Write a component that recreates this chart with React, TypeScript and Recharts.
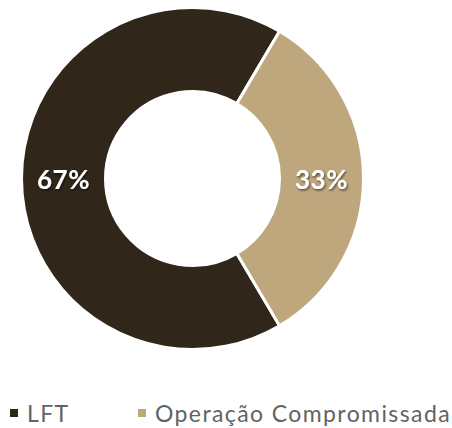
import React from 'react';
import { PieChart, Pie, Cell, Legend } from 'recharts';

const categories = ['LFT', 'Operação Compromissada'];
const shares = [67, 33];
const colors = ['#30271A', '#BFA77D'];

const data = categories.map((name, i) => ({ name, value: shares[i] }));

const RADIAN = Math.PI / 180;

const renderLabel = (props: any) => {
  const { cx, cy, midAngle, innerRadius, outerRadius, value } = props;
  const r = (innerRadius + outerRadius) / 2;
  const x = cx + r * Math.cos(-midAngle * RADIAN);
  const y = cy + r * Math.sin(-midAngle * RADIAN);
  return (
    <text
      x={x}
      y={y}
      fill="#ffffff"
      textAnchor="middle"
      dominantBaseline="central"
      filter="url(#labelShadow)"
      style={{ fontFamily: 'Lato, sans-serif', fontSize: 26, fontWeight: 700, letterSpacing: 0.5 }}
    >
      {`${value}%`}
    </text>
  );
};

const renderLegend = (props: any) => {
  const { payload } = props;
  return (
    <div style={{ display: 'flex', alignItems: 'center', fontFamily: 'Lato, sans-serif', fontSize: 23, fontWeight: 400, letterSpacing: 1.4, color: '#636363' }}>
      {payload.map((entry: any, i: number) => (
        <div key={entry.value} style={{ display: 'flex', alignItems: 'center', width: i === 0 ? 128 : 'auto' }}>
          <span style={{ display: 'inline-block', width: 8, height: 8, background: entry.color, marginRight: 9 }} />
          <span>{entry.value}</span>
        </div>
      ))}
    </div>
  );
};

export default function App() {
  return (
    <div style={{ width: 452, height: 428, background: '#fff' }}>
      <style>{'body{margin:0}'}</style>
      <PieChart width={452} height={428} margin={{ top: 0, right: 0, bottom: 0, left: 0 }}>
        <defs>
          <filter id="labelShadow" x="-20%" y="-20%" width="140%" height="140%">
            <feDropShadow dx="1" dy="1.5" stdDeviation="1" floodColor="#000" floodOpacity="0.6" />
          </filter>
        </defs>
        <Pie
          data={data}
          dataKey="value"
          nameKey="name"
          cx={192.5}
          cy={178.5}
          innerRadius={87}
          outerRadius={171}
          startAngle={59.4}
          endAngle={419.4}
          stroke="#ffffff"
          strokeWidth={3}
          label={renderLabel}
          labelLine={false}
          isAnimationActive={false}
        >
          {data.map((d, i) => (
            <Cell key={d.name} fill={colors[i]} />
          ))}
        </Pie>
        <Legend
          content={renderLegend}
          wrapperStyle={{ position: 'absolute', left: 10, top: 399, width: 442 }}
        />
      </PieChart>
    </div>
  );
}
